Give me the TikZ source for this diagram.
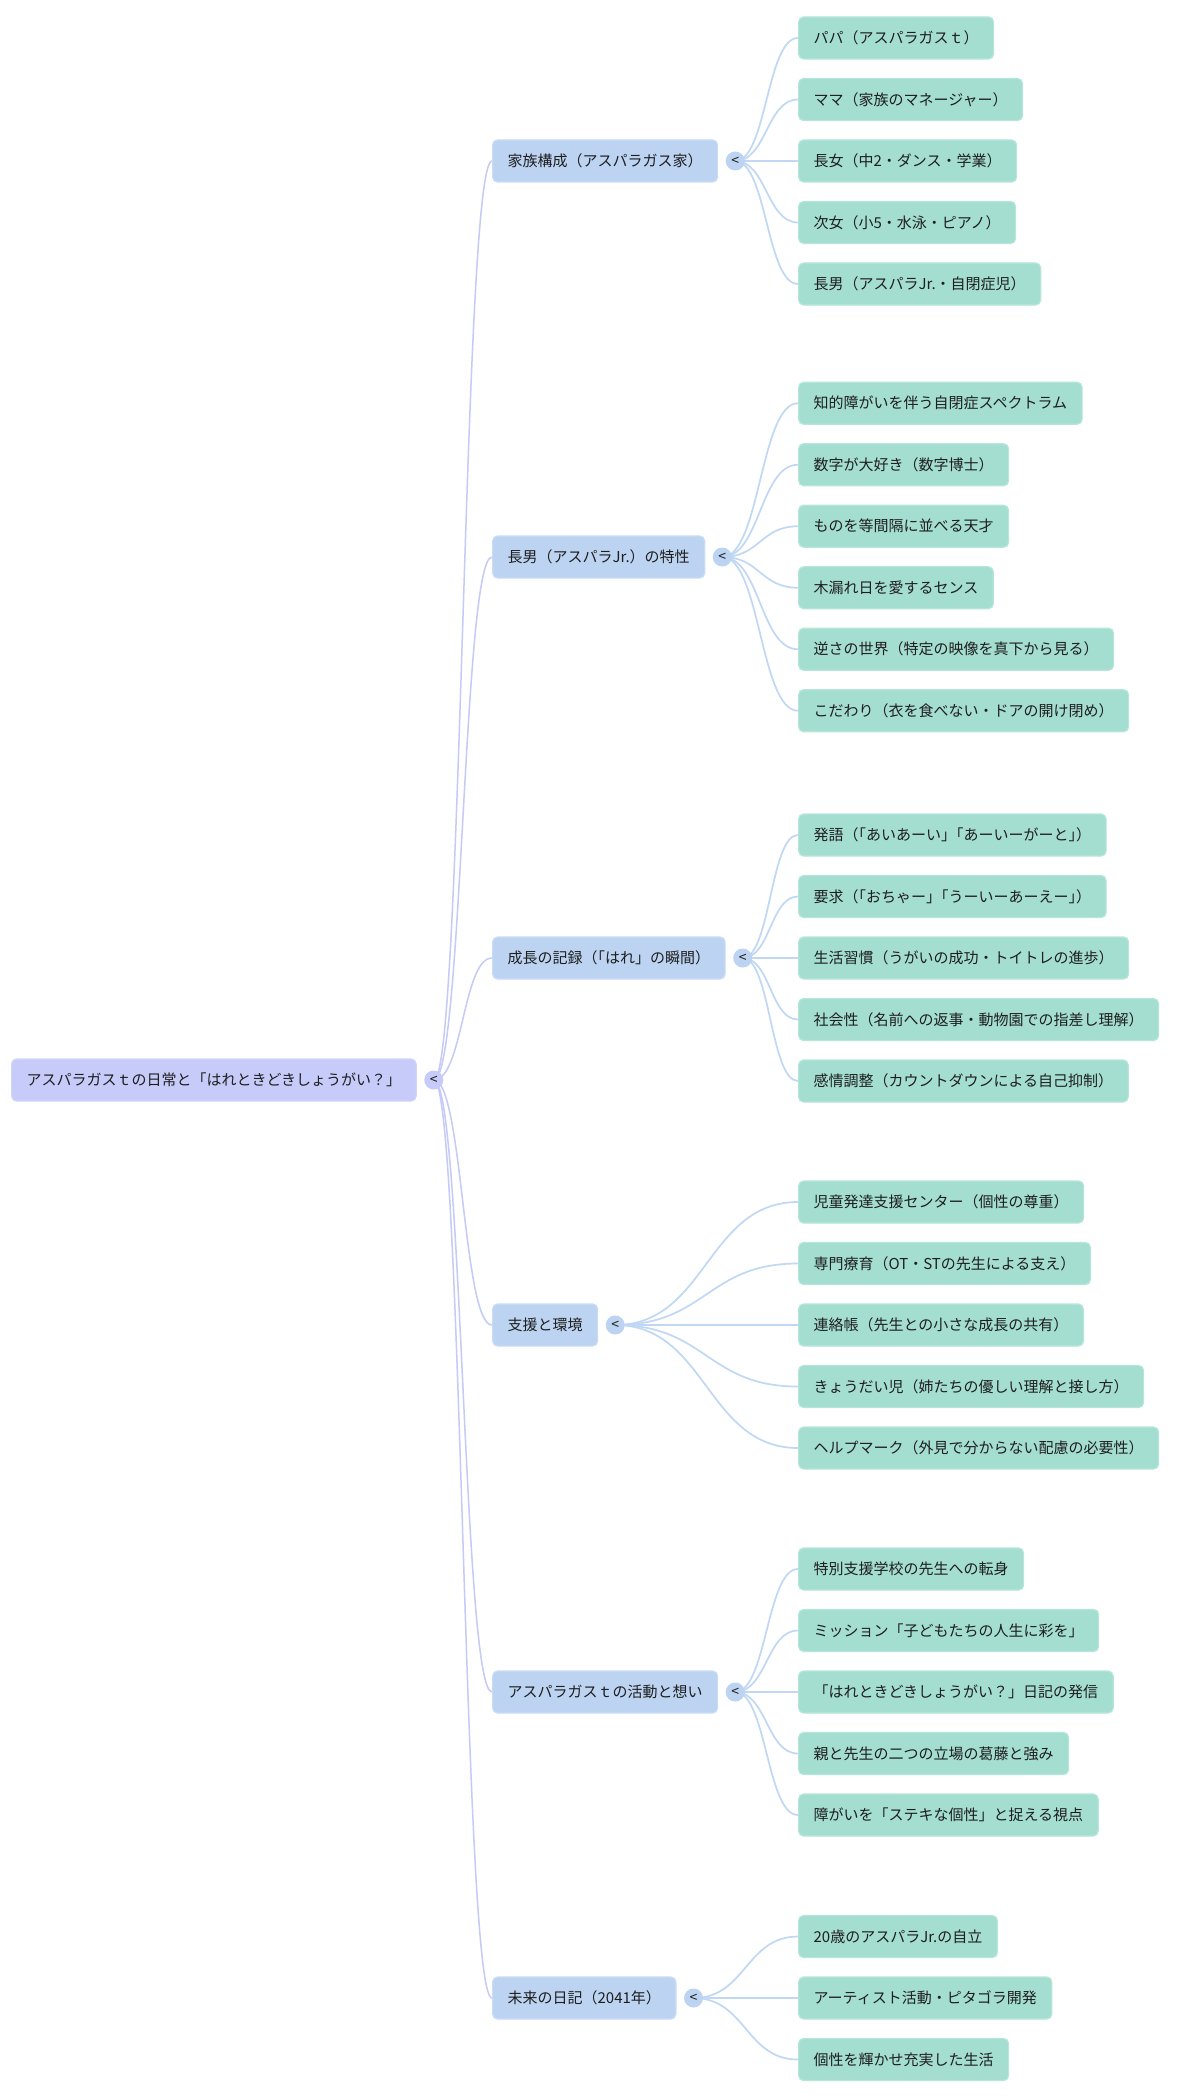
\documentclass[tikz,border=0pt]{standalone}
\usepackage{fontspec}
\newfontfamily\jp{Noto Sans CJK JP}
\usetikzlibrary{calc,backgrounds}
\definecolor{rootc}{HTML}{C6CBF9}
\definecolor{rootb}{HTML}{D0D4FB}
\definecolor{lvc}{HTML}{BCD4F2}
\definecolor{lvb}{HTML}{C9DCF5}
\definecolor{leafc}{HTML}{A4DED0}
\definecolor{leafb}{HTML}{B6E6DA}
\definecolor{rlinkc}{HTML}{C5CAF6}
\definecolor{clinkc}{HTML}{C0D8F4}
\definecolor{txt}{HTML}{1E1E1E}
\newcommand\hk{\kern-7.5pt}
\newcommand\lnk[3]{\draw[#1] let \p1=(#2), \p2=(#3) in (#2) .. controls ({(\x1+\x2)/2},\y1) and ({(\x1+\x2)/2},\y2) .. (#3);}
\begin{document}
\begin{tikzpicture}[x=1pt,y=-1pt,
  box/.style={rounded corners=5pt, minimum height=42pt, inner xsep=15pt, inner ysep=0pt, anchor=west, font=\jp\fontsize{15}{18}\selectfont, text=txt, line width=1.2pt},
  rootbox/.style={box, fill=rootc, draw=rootb},
  lvbox/.style={box, fill=lvc, draw=lvb},
  leaf/.style={box, fill=leafc, draw=leafb},
  tog/.style={circle, minimum size=19pt, inner sep=0pt, font=\jp\fontsize{14}{14}\selectfont, text=txt},
  rlink/.style={draw=rlinkc, line width=1.5pt},
  clink/.style={draw=clinkc, line width=1.7pt}]
\useasboundingbox (0,0) rectangle (1200,2100);
% root
\node[rootbox] (r) at (11,1080) {アスパラガスｔの日常と「はれときどきしょうがい？」};
\node[tog, fill=rootc] (rc) at ([xshift=17pt]r.east) {<};
% level 1
\node[lvbox] (a) at (492,161) {家族構成（アスパラガス家）};
\node[lvbox] (b) at (492,557) {長男（アスパラJr.）の特性};
\node[lvbox] (c) at (492,958) {成長の記録（\hk「はれ」の瞬間）};
\node[lvbox] (d) at (492,1325) {支援と環境};
\node[lvbox] (e) at (492,1692) {アスパラガスｔの活動と想い};
\node[lvbox] (f) at (492,1998) {未来の日記（2041年）};
\foreach \g in {a,b,c,d,e,f}{
  \node[tog, fill=lvc] (\g c) at ([xshift=17pt]\g.east) {<};
}
% group a
\node[leaf] (a1) at (798,38) {パパ（アスパラガスｔ）};
\node[leaf] (a2) at (798,99.5) {ママ（家族のマネージャー）};
\node[leaf] (a3) at (798,161) {長女（中2・ダンス・学業）};
\node[leaf] (a4) at (798,222.5) {次女（小5・水泳・ピアノ）};
\node[leaf] (a5) at (798,284) {長男（アスパラJr.・自閉症児）};
% group b
\node[leaf] (b1) at (798,403.25) {知的障がいを伴う自閉症スペクトラム};
\node[leaf] (b2) at (798,464.75) {数字が大好き（数字博士）};
\node[leaf] (b3) at (798,526.25) {ものを等間隔に並べる天才};
\node[leaf] (b4) at (798,587.75) {木漏れ日を愛するセンス};
\node[leaf] (b5) at (798,649.25) {逆さの世界（特定の映像を真下から見る）};
\node[leaf] (b6) at (798,710.75) {こだわり（衣を食べない・ドアの開け閉め）};
% group c
\node[leaf] (c1) at (798,835) {発語（\hk「あいあーい」\hk「あーいーがーと」\hk）};
\node[leaf] (c2) at (798,896.5) {要求（\hk「おちゃー」\hk「うーいーあーえー」\hk）};
\node[leaf] (c3) at (798,958) {生活習慣（うがいの成功・トイトレの進歩）};
\node[leaf] (c4) at (798,1019.5) {社会性（名前への返事・動物園での指差し理解）};
\node[leaf] (c5) at (798,1081) {感情調整（カウントダウンによる自己抑制）};
% group d
\node[leaf] (d1) at (798,1202) {児童発達支援センター（個性の尊重）};
\node[leaf] (d2) at (798,1263.5) {専門療育（OT・STの先生による支え）};
\node[leaf] (d3) at (798,1325) {連絡帳（先生との小さな成長の共有）};
\node[leaf] (d4) at (798,1386.5) {きょうだい児（姉たちの優しい理解と接し方）};
\node[leaf] (d5) at (798,1448) {ヘルプマーク（外見で分からない配慮の必要性）};
% group e
\node[leaf] (e1) at (798,1569) {特別支援学校の先生への転身};
\node[leaf] (e2) at (798,1630.5) {ミッション「子どもたちの人生に彩を」};
\node[leaf] (e3) at (798,1692) {「はれときどきしょうがい？」日記の発信};
\node[leaf] (e4) at (798,1753.5) {親と先生の二つの立場の葛藤と強み};
\node[leaf] (e5) at (798,1815) {障がいを「ステキな個性」と捉える視点};
% group f
\node[leaf] (f1) at (798,1936.5) {20歳のアスパラJr.の自立};
\node[leaf] (f2) at (798,1998) {アーティスト活動・ピタゴラ開発};
\node[leaf] (f3) at (798,2059.5) {個性を輝かせ充実した生活};
\begin{pgfonlayer}{background}
\fill[white] (0,0) rectangle (1200,2100);
\foreach \g in {a,b,c,d,e,f}{\lnk{rlink}{rc.center}{\g.west}}
\foreach \k in {1,...,5}{\lnk{clink}{ac.center}{a\k.west}}
\foreach \k in {1,...,6}{\lnk{clink}{bc.center}{b\k.west}}
\foreach \k in {1,...,5}{\lnk{clink}{cc.center}{c\k.west}}
\foreach \k in {1,...,5}{\lnk{clink}{dc.center}{d\k.west}}
\foreach \k in {1,...,5}{\lnk{clink}{ec.center}{e\k.west}}
\foreach \k in {1,...,3}{\lnk{clink}{fc.center}{f\k.west}}
\end{pgfonlayer}
\end{tikzpicture}
\end{document}
